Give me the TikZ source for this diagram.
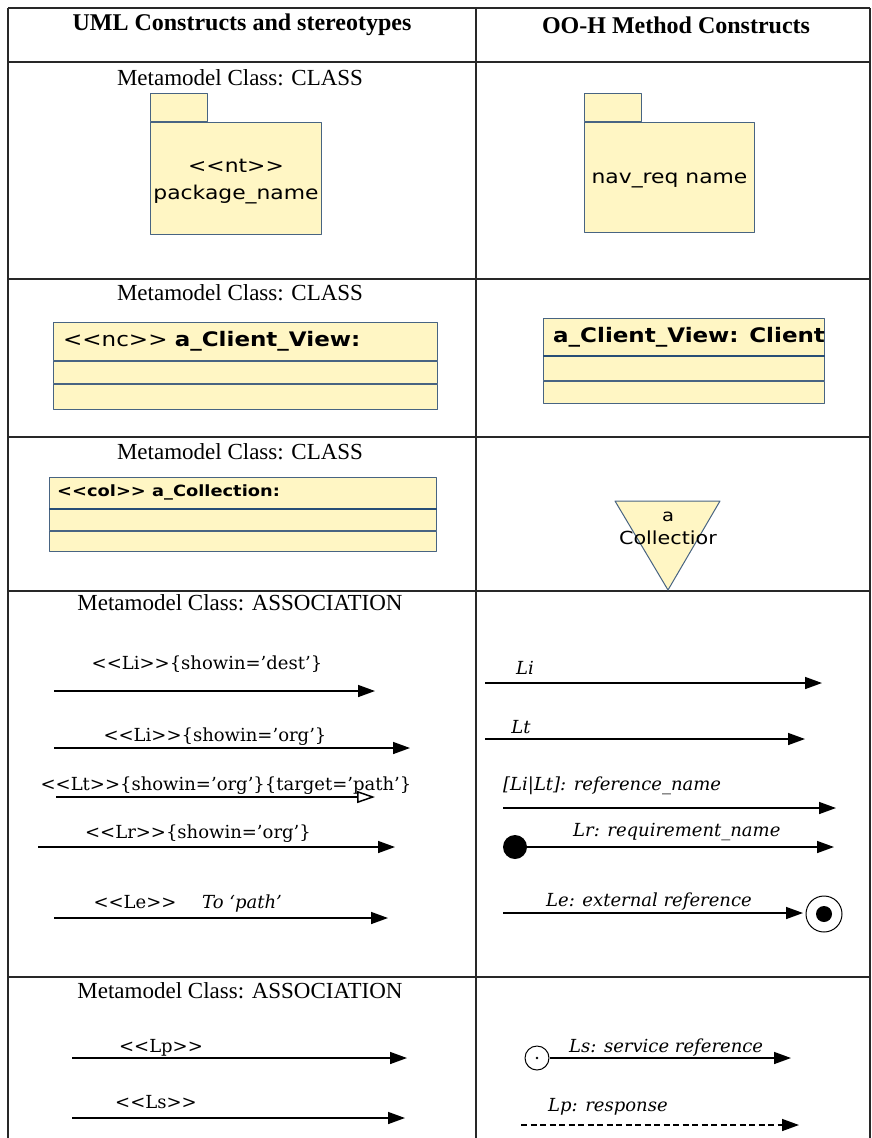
\documentclass[tikz,border=0pt]{standalone}
\usepackage{fontspec}
\setmainfont{Liberation Serif}
\newfontfamily\umlsans[FakeStretch=1.15]{DejaVu Sans}
\newfontfamily\assocserif{DejaVu Serif}
\usetikzlibrary{arrows.meta,positioning}
\definecolor{umlfill}{RGB}{255,246,196}
\definecolor{umledge}{RGB}{72,100,130}
\definecolor{umlsep}{RGB}{40,78,118}
\definecolor{gridline}{RGB}{40,40,40}
\begin{document}
\begin{tikzpicture}[x=1pt,y=-1pt,line join=round,
    tablerule/.style={draw=gridline,line width=1.6pt},
    hdr/.style={font=\bfseries\fontsize{24}{28}\selectfont},
    ttl/.style={font=\fontsize{23}{27}\selectfont},
    pkgbody/.style={draw=umledge,fill=umlfill,line width=1pt,inner sep=0pt,anchor=north west},
    pkgtab/.style={draw=umledge,fill=umlfill,line width=1pt,inner sep=0pt,anchor=south west,minimum width=57pt,minimum height=28pt},
    pkgtext/.style={inner sep=0pt,align=center,font=\umlsans\fontsize{19}{27}\selectfont},
    clsbox/.style={draw=umledge,fill=umlfill,line width=1pt,inner sep=0pt,anchor=north west},
    clstext/.style={inner sep=0pt,anchor=west,font=\umlsans\fontsize{20}{23}\selectfont},
    sepline/.style={draw=umlsep,line width=2.6pt},
    lbl/.style={inner sep=0pt,font=\assocserif\fontsize{18}{22}\selectfont},
    lbli/.style={lbl,font=\assocserif\itshape\fontsize{18}{22}\selectfont},
    assoc/.style={draw=black,line width=1.5pt,-{Triangle[length=17pt,width=12pt]}}]
  \useasboundingbox (0,0) rectangle (872,1138);
  % table
  \draw[tablerule] (8,8) -- (870,8);
  \foreach \y in {62,279,437,591,977} \draw[tablerule] (8,\y) -- (870,\y);
  \foreach \x in {8,476,870} \draw[tablerule] (\x,8) -- (\x,1138);
  \node[hdr] (hdrUml) at (242,25) {UML Constructs and stereotypes};
  \node[hdr] (hdrOoh) at (676,25) {OO-H Method Constructs};
  % packages
  \node[ttl] (ttlPkg) at (240,78) {Metamodel Class: CLASS};
  \node[pkgbody,minimum width=171pt,minimum height=112pt] (pkgL) at (150,122) {};
  \node[pkgtab] (pkgLtab) at (pkgL.north west) {};
  \node[pkgtext] (pkgLtxt) at ([yshift=-3pt]pkgL.center) {<<nt>>\\package\_name};
  \node[pkgbody,minimum width=170pt,minimum height=110pt] (pkgR) at (584,122) {};
  \node[pkgtab] (pkgRtab) at (pkgR.north west) {};
  \node[pkgtext] (pkgRtxt) at ([yshift=-3pt]pkgR.center) {nav\_req name};
  % navigational classes
  \node[ttl] (ttlView) at (240,293) {Metamodel Class: CLASS};
  \node[clsbox,minimum width=384pt,minimum height=38pt] (viewL) at (53,322) {};
  \node[clsbox,minimum width=384pt,minimum height=22pt] (viewLa) at (viewL.south west) {};
  \node[clsbox,minimum width=384pt,minimum height=25pt] (viewLb) at (viewLa.south west) {};
  \node[clstext] (viewLtxt) at ([xshift=10pt]viewL.west) {<<nc>> \textbf{a\_Client\_View:}};
  \node[clsbox,minimum width=281pt,minimum height=37pt] (viewR) at (543,318) {};
  \node[clsbox,minimum width=281pt,minimum height=24pt] (viewRa) at (viewR.south west) {};
  \node[clsbox,minimum width=281pt,minimum height=22pt] (viewRb) at (viewRa.south west) {};
  \draw[sepline] (viewR.south west) -- (viewR.south east);
  \node[clstext] (viewRtxt) at ([xshift=10pt]viewR.west) {\textbf{a\_Client\_View: Client}};
  % collections
  \node[ttl] (ttlCol) at (240,452) {Metamodel Class: CLASS};
  \node[clsbox,minimum width=387pt,minimum height=31pt] (colL) at (49,477) {};
  \node[clsbox,minimum width=387pt,minimum height=21pt] (colLa) at (colL.south west) {};
  \node[clsbox,minimum width=387pt,minimum height=20pt] (colLb) at (colLa.south west) {};
  \draw[sepline] (colL.south west) -- (colL.south east);
  \node[clstext,font=\umlsans\bfseries\fontsize{15.5}{18}\selectfont] (colLtxt) at ([xshift=8pt,yshift=1pt]colL.west) {<<col>> a\_Collection:};
  \coordinate (triA) at (615,501);
  \coordinate (triB) at (720,501);
  \coordinate (triC) at (668,590);
  \filldraw[draw=umledge,fill=umlfill,line width=1pt] (triA) -- (triB) -- (triC) -- cycle;
  \node[inner sep=0pt,font=\umlsans\fontsize{17}{20}\selectfont] (triTop) at (668,517) {a};
  \node[inner sep=0pt,font=\umlsans\fontsize{18}{21}\selectfont] (triBot) at (668,538) {Collectior};
  % associations, left
  \node[ttl] (ttlAssoc) at (240,603) {Metamodel Class: ASSOCIATION};
  \coordinate (liS) at (54,691);  \coordinate (liE) at (375,691);
  \coordinate (loS) at (54,748);  \coordinate (loE) at (410,748);
  \coordinate (ltS) at (56,797);  \coordinate (ltE) at (375,797);
  \coordinate (lrS) at (38,847);  \coordinate (lrE) at (395,847);
  \coordinate (leS) at (54,918);  \coordinate (leE) at (388,918);
  \draw[assoc] (liS) -- (liE);
  \draw[assoc] (loS) -- (loE);
  \draw[assoc,-{Triangle[open,length=18pt,width=12pt]}] (ltS) -- (ltE);
  \draw[assoc] (lrS) -- (lrE);
  \draw[assoc] (leS) -- (leE);
  \node[lbl] (liLbl) at (207,664) {<<Li>>\{showin=’dest’\}};
  \node[lbl] (loLbl) at (215,737) {<<Li>>\{showin=’org’\}};
  \node[lbl] (ltLbl) at (226,786) {<<Lt>>\{showin=’org’\}\{target=’path’\}};
  \node[lbl] (lrLbl) at (198,834) {<<Lr>>\{showin=’org’\}};
  \node[lbl] (leLbl) at (135,902) {<<Le>>};
  \node[lbli] (leTo) at (242,904) {To ‘path’};
  % associations, right
  \coordinate (riS) at (485,683);  \coordinate (riE) at (822,683);
  \coordinate (rtS) at (485,739);  \coordinate (rtE) at (805,739);
  \coordinate (rrS) at (503,808);  \coordinate (rrE) at (836,808);
  \coordinate (rqE) at (834,847);
  \coordinate (reS) at (503,913);  \coordinate (reE) at (803,913);
  \node[circle,fill=black,inner sep=0pt,minimum size=24pt] (rqDot) at (515,847) {};
  \node[circle,draw=black,line width=1pt,inner sep=0pt,minimum size=36pt] (reEye) at (824,914) {};
  \fill (reEye.center) circle (8pt);
  \draw[assoc] (riS) -- (riE);
  \draw[assoc] (rtS) -- (rtE);
  \draw[assoc] (rrS) -- (rrE);
  \draw[assoc] (rqDot) -- (rqE);
  \draw[assoc] (reS) -- (reE);
  \node[lbli] (riLbl) at (525,668) {Li};
  \node[lbli] (rtLbl) at (521,727) {Lt};
  \node[lbli,anchor=west] (rrLbl) at (503,786) {[Li|Lt]: reference\_name};
  \node[lbli,anchor=west] (rqLbl) at (573,832) {Lr: requirement\_name};
  \node[lbli,anchor=west] (reLbl) at (546,902) {Le: external reference};
  % services
  \node[ttl] (ttlSvc) at (240,991) {Metamodel Class: ASSOCIATION};
  \coordinate (lpS) at (72,1058);  \coordinate (lpE) at (407,1058);
  \coordinate (lsS) at (72,1118);  \coordinate (lsE) at (405,1118);
  \draw[assoc] (lpS) -- (lpE);
  \draw[assoc] (lsS) -- (lsE);
  \node[lbl] (lpLbl) at (161,1048) {<<Lp>>};
  \node[lbl] (lsLbl) at (156,1102) {<<Ls>>};
  \node[circle,draw=black,line width=1pt,inner sep=0pt,minimum size=24pt] (rsDot) at (537,1058) {};
  \fill (rsDot.center) circle (1.3pt);
  \coordinate (rsE) at (791,1058);
  \coordinate (rpS) at (521,1125);  \coordinate (rpE) at (799,1125);
  \draw[assoc] (rsDot) -- (rsE);
  \draw[assoc,dash pattern=on 6pt off 3.5pt] (rpS) -- (rpE);
  \node[lbli,anchor=west] (rsLbl) at (569,1048) {Ls: service reference};
  \node[lbli,anchor=west] (rpLbl) at (548,1107) {Lp: response};
\end{tikzpicture}
\end{document}
